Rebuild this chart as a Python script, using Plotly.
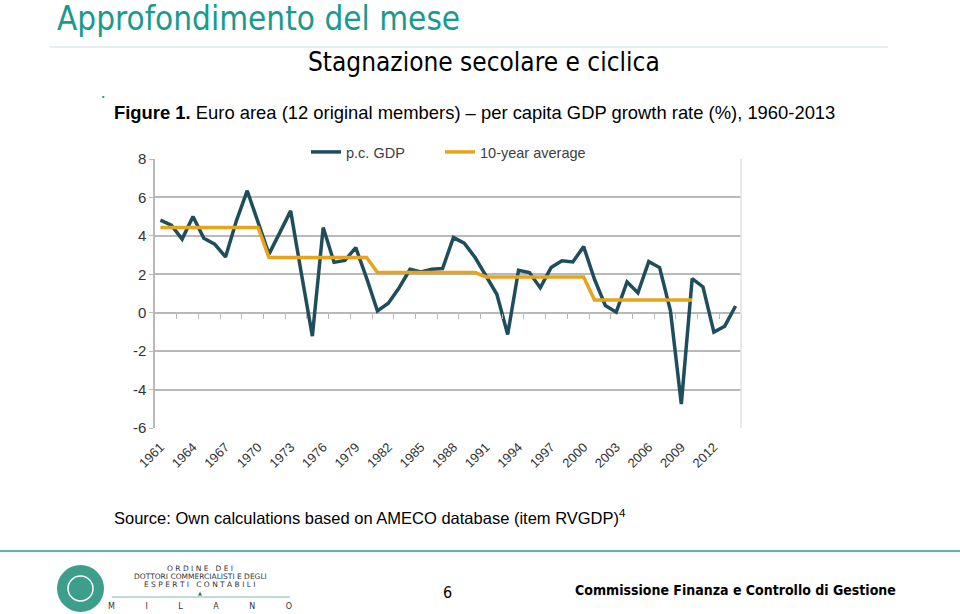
import plotly.graph_objects as go

years = list(range(1961, 2015))
gdp = [4.82, 4.56, 3.83, 5.01, 3.88, 3.57, 2.90, 4.78, 6.35, 4.70,
       3.05, 4.17, 5.30, 2.00, -1.22, 4.43, 2.62, 2.72, 3.39, 1.80,
       0.09, 0.49, 1.30, 2.26, 2.12, 2.26, 2.30, 3.91, 3.62, 2.87,
       1.91, 0.96, -1.13, 2.21, 2.09, 1.30, 2.35, 2.70, 2.64, 3.44,
       1.74, 0.37, 0.03, 1.60, 1.04, 2.66, 2.35, 0.10, -4.75, 1.77,
       1.34, -1.01, -0.70, 0.35]
avg_years = list(range(1961, 2011))
avg10 = [4.44, 4.44, 4.44, 4.44, 4.44, 4.44, 4.44, 4.44, 4.44, 4.44,
         2.87, 2.87, 2.87, 2.87, 2.87, 2.87, 2.87, 2.87, 2.87, 2.87,
         2.09, 2.09, 2.09, 2.09, 2.09, 2.09, 2.09, 2.09, 2.09, 2.09,
         1.86, 1.86, 1.86, 1.86, 1.86, 1.86, 1.86, 1.86, 1.86, 1.86,
         0.66, 0.66, 0.66, 0.66, 0.66, 0.66, 0.66, 0.66, 0.66, 0.66]
label_years = list(range(1961, 2013, 3))
y_ticks = [-6, -4, -2, 0, 2, 4, 6, 8]
y_labels = ["-6", "-4", "-2", "0", "2", "4", "6", "8"]
boundary_ticks = [y + 0.5 for y in range(1962, 2015, 2)]

GDP_C = "#1e4d5c"
AVG_C = "#e6a51c"
GRID_C = "#b9b9b9"
TEAL = "#1a9a8c"
NARROW = "Liberation Sans Narrow, DejaVu Sans Condensed, Arial Narrow, sans-serif"
SANS = "Liberation Sans, Arial, sans-serif"

W, H = 960, 614
ML, MR, MT, MB = 155, 219, 159, 186
PW, PH = W - ML - MR, H - MT - MB

def px(x, y):
    return (x - ML) / PW, (H - MB - y) / PH

fig = go.Figure()
fig.add_trace(go.Scatter(x=years, y=gdp, mode="lines", name="p.c. GDP",
                         line=dict(color=GDP_C, width=3.5), legend="legend"))
fig.add_trace(go.Scatter(x=avg_years, y=avg10, mode="lines", name="10-year average",
                         line=dict(color=AVG_C, width=3.5), legend="legend2"))
fig.add_trace(go.Scatter(x=[years[0]], y=[0], xaxis="x2", mode="lines",
                         showlegend=False, hoverinfo="skip", line=dict(width=0)))

l1x, l1y = px(306, 152)
l2x, l2y = px(440, 152)
leg_common = dict(orientation="h", xanchor="left", yanchor="middle",
                  font=dict(size=14.5, color="#404040", family=SANS),
                  bgcolor="rgba(0,0,0,0)", itemwidth=30)
fig.update_layout(
    width=W, height=H,
    margin=dict(l=ML, r=MR, t=MT, b=MB, pad=0),
    paper_bgcolor="white", plot_bgcolor="white",
    font=dict(family=SANS, size=13, color="#333333"),
    showlegend=True,
    legend=dict(x=l1x, y=l1y, **leg_common),
    legend2=dict(x=l2x, y=l2y, **leg_common),
    xaxis=dict(range=[1960.5, 2014.5], tickmode="array", tickvals=label_years,
               ticktext=[str(y) for y in label_years], tickangle=-45,
               showgrid=False, zeroline=False, showline=False, ticks="",
               ticklabelstandoff=8,
               tickfont=dict(size=13, color="#333333")),
    xaxis2=dict(range=[1960.5, 2014.5], overlaying="x", anchor="free",
                position=6/14, side="bottom", tickmode="array",
                tickvals=boundary_ticks, ticks="outside", ticklen=5,
                tickcolor=GRID_C, tickwidth=1.2, showticklabels=False,
                showgrid=False, zeroline=False, showline=False),
    yaxis=dict(range=[-6, 8], tickmode="array", tickvals=y_ticks, ticktext=y_labels,
               showgrid=True, gridcolor=GRID_C, gridwidth=1.5,
               zeroline=True, zerolinecolor=GRID_C, zerolinewidth=1.5,
               showline=True, linecolor=GRID_C, linewidth=1.5,
               ticks="outside", ticklen=4, tickcolor=GRID_C,
               tickfont=dict(size=15, color="#333333")),
)

def line(x0, y0, x1, y1, color, width):
    a, b = px(x0, y0)
    c, d = px(x1, y1)
    return dict(type="line", xref="paper", yref="paper", x0=a, y0=b, x1=c, y1=d,
                line=dict(color=color, width=width))

def circle(x0, y0, x1, y1, fill, lcolor=None, lwidth=0):
    a, b = px(x0, y1)
    c, d = px(x1, y0)
    return dict(type="circle", xref="paper", yref="paper", x0=a, y0=b, x1=c, y1=d,
                fillcolor=fill, line=dict(color=lcolor or "rgba(0,0,0,0)", width=lwidth))

shapes = [
    line(741, 159, 741, 428, "#e2e2e2", 1.5),
    line(50, 47, 888, 47, "#cfdce3", 1),
    line(0, 551, 960, 551, "#5fb5ae", 2),
    circle(57, 565, 104, 612, "#3d9e8c"),
    circle(68, 576, 93, 601, "rgba(0,0,0,0)", "white", 1.5),
    line(112, 597, 290, 597, "#7fb8ad", 1),
]
fig.update_layout(shapes=shapes)

ann = []
def add(text, x, y, size, color="#000000", family=SANS, xanchor="left", yanchor="middle"):
    xx, yy = px(x, y)
    ann.append(dict(text=text, x=xx, y=yy, xref="paper", yref="paper", showarrow=False,
                    xanchor=xanchor, yanchor=yanchor,
                    font=dict(size=size, color=color, family=family)))

LOGO_F = "DejaVu Sans, sans-serif"
add("Approfondimento del mese", 55, 18, 33, TEAL, NARROW)
add("Stagnazione secolare e ciclica", 484, 62, 26, "#000000", NARROW, xanchor="center")
add("■", 100, 97, 4, TEAL)
add("<b>Figure 1.</b> Euro area (12 original members) – per capita GDP growth rate (%), 1960-2013",
    112, 112, 18.4, "#000000", SANS)
add("Source: Own calculations based on AMECO database (item RVGDP)<sup>4</sup>",
    112, 517, 16.5, "#000000", SANS)
add("6", 447, 592, 16, "#000000", NARROW, xanchor="center")
add("<b>Commissione Finanza e Controllo di Gestione</b>", 573, 590, 14, "#000000", NARROW)
add("O R D I N E   D E I", 200, 568, 7.5, "#333333", LOGO_F, xanchor="center")
add("DOTTORI COMMERCIALISTI E DEGLI", 200, 576, 7.5, "#333333", LOGO_F, xanchor="center")
add("E S P E R T I   C O N T A B I L I", 200, 584, 7.5, "#333333", LOGO_F, xanchor="center")
add("▲", 200, 593, 5, "#2d6b5f", LOGO_F, xanchor="center")
add("M            I            L            A            N            O", 200, 606, 8, "#333333", LOGO_F, xanchor="center")
fig.update_layout(annotations=ann)

fig.write_html("out.html", config={"displayModeBar": False},
               post_script="document.body.style.margin='0';")
